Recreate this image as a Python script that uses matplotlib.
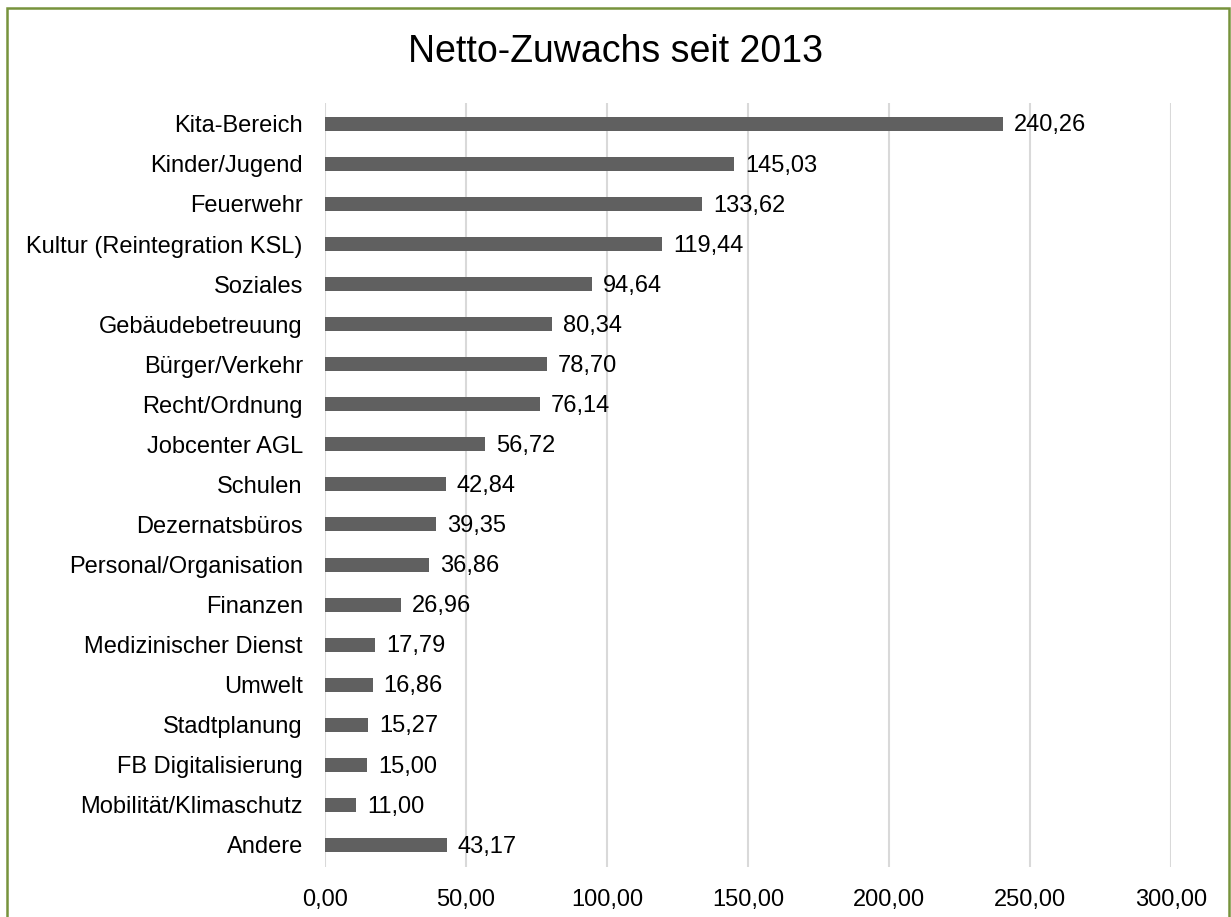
import matplotlib
matplotlib.use("Agg")
import matplotlib.pyplot as plt
from matplotlib.patches import Rectangle

plt.rcParams['font.family'] = ['Liberation Sans', 'DejaVu Sans']

categories = ["Kita-Bereich", "Kinder/Jugend", "Feuerwehr", "Kultur (Reintegration KSL)",
              "Soziales", "Gebäudebetreuung", "Bürger/Verkehr", "Recht/Ordnung",
              "Jobcenter AGL", "Schulen", "Dezernatsbüros", "Personal/Organisation",
              "Finanzen", "Medizinischer Dienst", "Umwelt", "Stadtplanung",
              "FB Digitalisierung", "Mobilität/Klimaschutz", "Andere"]
values = [240.26, 145.03, 133.62, 119.44, 94.64, 80.34, 78.70, 76.14, 56.72, 42.84,
          39.35, 36.86, 26.96, 17.79, 16.86, 15.27, 15.00, 11.00, 43.17]
xticks = [0, 50, 100, 150, 200, 250, 300]

def de(v):
    return f"{v:.2f}".replace(".", ",")

fig = plt.figure(figsize=(12.31, 9.17), dpi=100)
ax = fig.add_axes([325/1231, 1 - 867/917, (1171 - 325)/1231, (867 - 103)/917])

y = list(range(len(categories)))
ax.barh(y, values, height=0.35, color="#606060", zorder=3)
for yi, v in zip(y, values):
    ax.annotate(de(v), (v, yi), xytext=(8, -1.2), textcoords="offset points",
                va="center", ha="left", fontsize=17, color="#000000", zorder=4)

ax.set_xlim(0, 300)
ax.set_ylim(len(categories) - 0.5 + 0.05, -0.52)
ax.set_yticks(y)
ax.set_yticklabels(categories, fontsize=17)
ax.set_xticks(xticks)
ax.set_xticklabels([de(t) for t in xticks], fontsize=17)
ax.tick_params(axis="both", length=0)
ax.tick_params(axis="y", pad=16)
ax.tick_params(axis="x", pad=16)
for s in ax.spines.values():
    s.set_visible(False)
ax.grid(axis="x", color="#D9D9D9", linewidth=1.5, zorder=0)
ax.set_axisbelow(True)

fig.text(0.5, 1 - 52/917, "Netto-Zuwachs seit 2013", ha="center", va="center", fontsize=27)

fig.patches.append(Rectangle((7/1231, -0.05), (1229 - 7)/1231, 1 - 8/917 + 0.05,
                             transform=fig.transFigure, fill=False,
                             edgecolor="#77933C", linewidth=1.8))

fig.savefig("out.png", dpi=100)
